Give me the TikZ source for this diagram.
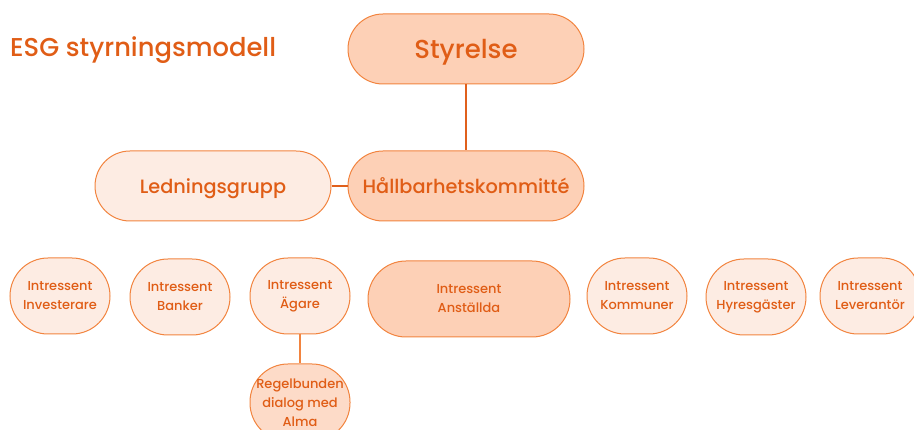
\documentclass[tikz,border=0pt]{standalone}
\usepackage{fontspec}
\setmainfont{Poppins Medium}
\usetikzlibrary{positioning}
\definecolor{morange}{HTML}{F2843F}
\definecolor{mtext}{HTML}{E05D16}
\definecolor{mline}{HTML}{E0601C}
\definecolor{mpeach}{HTML}{FDD0B6}
\definecolor{mmid}{HTML}{FDDBC8}
\definecolor{mlight}{HTML}{FDECE3}
\tikzstyle{board} = [rectangle, rounded corners=35pt, minimum width=236pt, minimum height=70pt, inner sep=0pt, draw=morange, line width=1pt, text=mtext, align=center, fill=mpeach]
\tikzstyle{party} = [rectangle, rounded corners=38pt, minimum width=100pt, minimum height=76pt, inner sep=0pt, draw=morange, line width=1pt, text=mtext, align=center, fill=mlight, font=\fontsize{13}{19}\selectfont]
\tikzstyle{link} = [mline, line width=1.6pt]
\tikzstyle{sublink} = [morange, line width=1.6pt]

\begin{document}
\begin{tikzpicture}[x=1pt, y=-1pt, node distance=16pt]
  \useasboundingbox (0,0) rectangle (914,430);
  \clip (0,0) rectangle (914,430);
  \node (title) [anchor=west, text=mtext, inner sep=0pt, font=\fontsize{25.8}{29}\selectfont] at (10,50) {ESG styrningsmodell};
  \node (styr) [board, text depth=0pt, font=\fontsize{26}{29}\selectfont] at (466,49) {Styrelse};
  \node (hall) [board, below = 66pt of styr, font=\fontsize{19.3}{22}\selectfont] {Hållbarhetskommitté};
  \node (led) [board, fill=mlight, left = of hall, text depth=0pt, font=\fontsize{19.3}{22}\selectfont] {Ledningsgrupp};
  \node (inv) [party] at (60,296) {Intressent\\Investerare};
  \node (bank) [party] at (180,297) {Intressent\\Banker};
  \node (agare) [party] at (300,296) {Intressent\\Ägare};
  \node (anst) [party, minimum width=202pt, fill=mpeach] at (469,299) {Intressent\\Anställda};
  \node (komm) [party] at (637,296) {Intressent\\Kommuner};
  \node (hyres) [party] at (756,297) {Intressent\\Hyresgäster};
  \node (lev) [party] at (870,296) {Intressent\\Leverantör};
  \node (dialog) [party, fill=mmid, minimum height=77pt, below = 29pt of agare] {Regelbunden\\dialog med\\Alma};
  \draw [link] (styr) -- (hall);
  \draw [link] (led) -- (hall);
  \draw [sublink] (agare) -- (dialog);
\end{tikzpicture}
\end{document}
